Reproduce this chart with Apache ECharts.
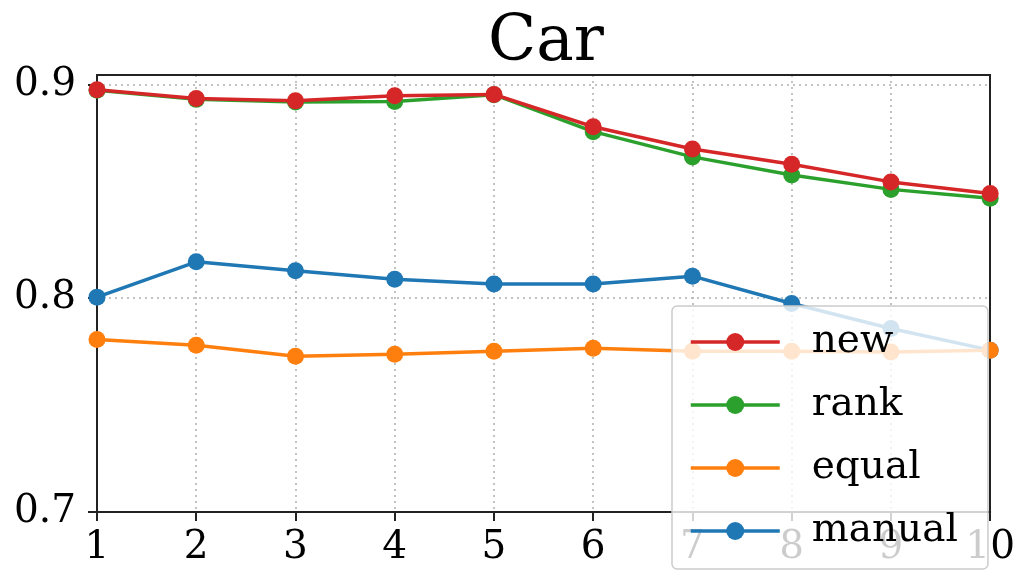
<!DOCTYPE html>
<html>
<head>
<meta charset="utf-8">
<script src="https://cdn.jsdelivr.net/npm/echarts@6/dist/echarts.min.js"></script>
<style>
  html, body { margin: 0; padding: 0; background: #fff; }
  #chart { width: 1018px; height: 570px; }
</style>
</head>
<body>
<div id="chart"></div>
<script>
// Number of selected features (x) and the score each weighting scheme reaches
const steps = [1, 2, 3, 4, 5, 6, 7, 8, 9, 10];
const newScores    = [0.8975, 0.8934, 0.8923, 0.8947, 0.8953, 0.8802, 0.8698, 0.8627, 0.8544, 0.8490];
const rankScores   = [0.8973, 0.8930, 0.8918, 0.8920, 0.8952, 0.8779, 0.8661, 0.8576, 0.8509, 0.8467];
const equalScores  = [0.7807, 0.7780, 0.7729, 0.7738, 0.7752, 0.7766, 0.7752, 0.7752, 0.7748, 0.7757];
const manualScores = [0.8005, 0.8170, 0.8128, 0.8089, 0.8066, 0.8066, 0.8103, 0.7975, 0.7858, 0.7757];
const yTicks = [0.7, 0.8, 0.9];
const seriesNames = ['new', 'rank', 'equal', 'manual'];

const FONT = "'DejaVu Serif', serif";
const AXIS_COLOR = '#222';
const pairs = (ys) => steps.map((x, i) => [x, ys[i]]);

function lineSeries(name, color, ys, z) {
  return {
    name: name,
    type: 'line',
    data: pairs(ys),
    z: z,
    symbol: 'circle',
    symbolSize: 17,
    showSymbol: true,
    itemStyle: { color: color },
    lineStyle: { color: color, width: 3.5 },
    emphasis: { disabled: true },
    animation: false
  };
}

// Plain frame line for the top and right edges of the plot
const frameAxis = {
  axisLine: { show: true, lineStyle: { color: AXIS_COLOR, width: 2 } },
  axisTick: { show: false },
  axisLabel: { show: false },
  splitLine: { show: false }
};

const chart = echarts.init(document.getElementById('chart'), null, { renderer: 'canvas' });
chart.setOption({
  backgroundColor: '#ffffff',
  animation: false,
  title: {
    text: 'Car',
    left: 541,
    textAlign: 'center',
    top: 7,
    textStyle: { fontFamily: FONT, fontSize: 63, fontWeight: 'normal', color: '#000' }
  },
  grid: { left: 97, right: 26, top: 75, bottom: 58 },
  xAxis: [{
    type: 'value',
    min: 1, max: 10, interval: 1,
    axisLine: { show: true, lineStyle: { color: AXIS_COLOR, width: 2 } },
    axisTick: { show: true, length: 9, inside: false, lineStyle: { color: AXIS_COLOR, width: 2 } },
    axisLabel: { fontFamily: FONT, fontSize: 39, color: '#000', margin: 16 },
    splitLine: { show: true, lineStyle: { color: '#b0b0b0', type: [2, 4], width: 1.5 } }
  }, Object.assign({ type: 'value', position: 'top', min: 1, max: 10 }, frameAxis)],
  yAxis: [{
    type: 'value',
    min: 0.7, max: 0.9044,
    axisLine: { show: true, lineStyle: { color: AXIS_COLOR, width: 2 } },
    axisTick: { show: true, length: 9, customValues: yTicks, lineStyle: { color: AXIS_COLOR, width: 2 } },
    axisLabel: { fontFamily: FONT, fontSize: 39, color: '#000', margin: 21, customValues: yTicks,
                 formatter: (v) => v.toFixed(1) },
    splitLine: { show: true, lineStyle: { color: '#b0b0b0', type: [2, 4], width: 1.5 } }
  }, Object.assign({ type: 'value', position: 'right', min: 0.7, max: 0.9044 }, frameAxis)],
  legend: {
    data: seriesNames,
    orient: 'vertical',
    left: 672, top: 306,
    padding: [16, 30, 18, 17],
    itemGap: 23,
    itemWidth: 89,
    itemHeight: 22.5,
    backgroundColor: 'rgba(255,255,255,0.8)',
    borderColor: '#cccccc',
    borderWidth: 1.5,
    borderRadius: 5,
    lineStyle: { width: 3.5 },
    textStyle: { fontFamily: FONT, fontSize: 39, color: '#000', lineHeight: 40, padding: [0, 0, 0, 27] },
    selectedMode: false,
    z: 10
  },
  series: [
    lineSeries('manual', '#1f77b4', manualScores, 2),
    lineSeries('equal', '#ff7f0e', equalScores, 3),
    lineSeries('rank', '#2ca02c', rankScores, 4),
    lineSeries('new', '#d62728', newScores, 5)
  ]
});
</script>
</body>
</html>
